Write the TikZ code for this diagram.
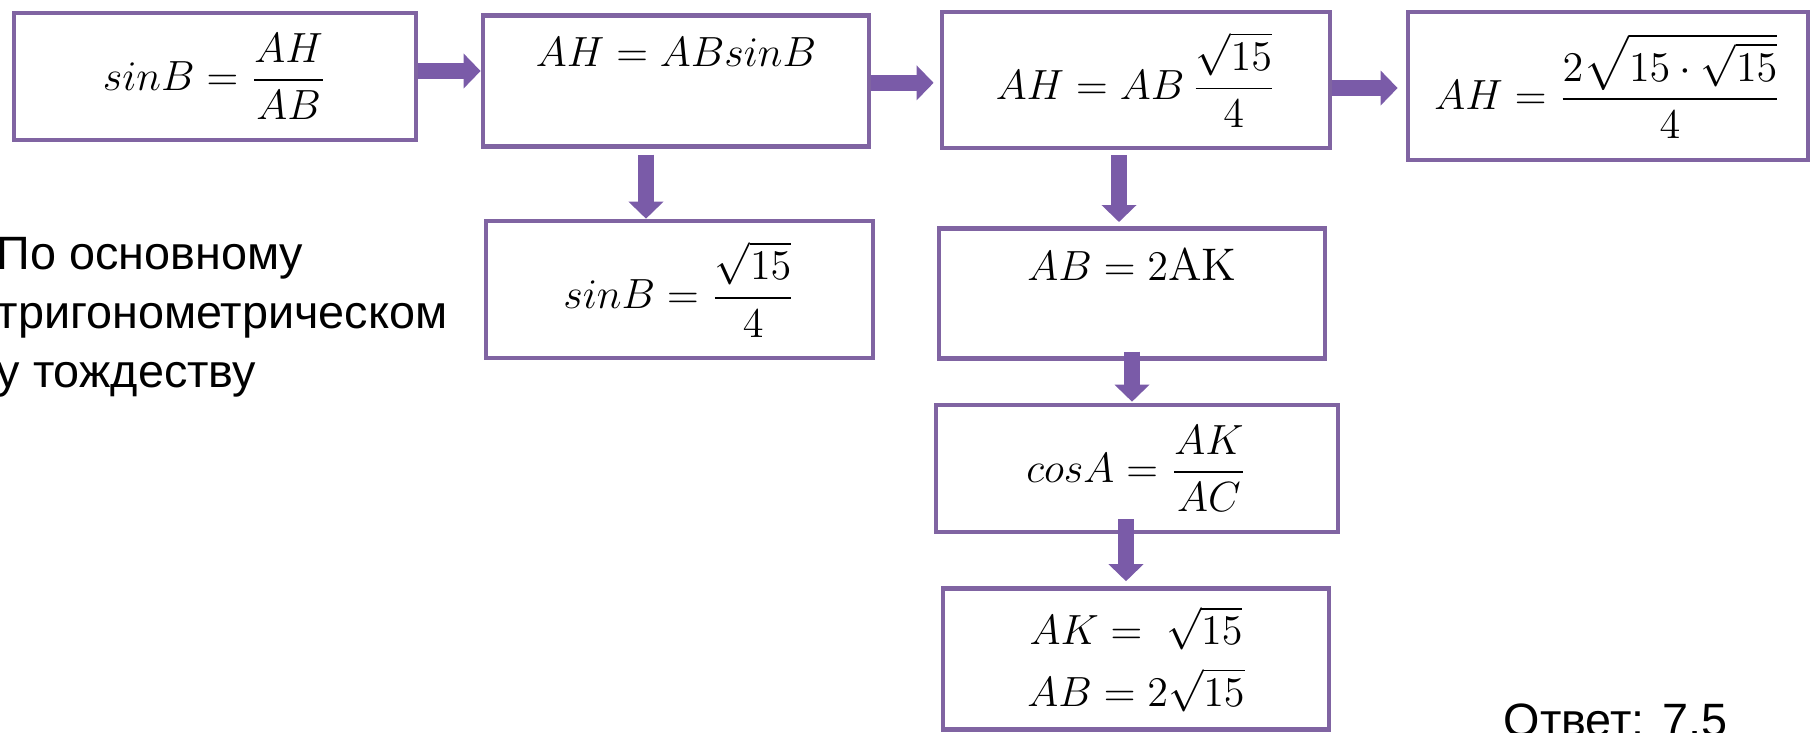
\documentclass[tikz,border=0pt]{standalone}
\usepackage{amsmath, amssymb}
\usepackage{fontspec}
\newfontfamily\rusfont{Liberation Sans}
\usetikzlibrary{arrows.meta}
\definecolor{boxpurple}{HTML}{8064A2}
\definecolor{arrowpurple}{HTML}{7A5BA8}

\begin{document}
\begin{tikzpicture}[x=0.01cm, y=-0.01cm,
    eqbox/.style={draw=boxpurple, line width=1.3pt, fill=white, inner sep=0pt,
        font=\fontsize{13}{17.6}\selectfont},
    topbox/.style={eqbox, anchor=north, inner ysep=0.2cm},
    flow/.style={draw=arrowpurple, line width=0.16cm,
        -{Triangle[length=0.17cm, width=0.34cm]}}]
    % Fix the page size
    \useasboundingbox (0,0) rectangle (1816,732);

    % Top row of equations
    \node[eqbox, minimum width=4.02cm, minimum height=1.27cm] (b1) at (215,76.5) {$sinB = \dfrac{AH}{AB}$};
    \node[topbox, minimum width=3.86cm, text height=0.31cm, text depth=0.6cm] (b2) at (676,13) {$AH = ABsinB$};
    \node[eqbox, minimum width=3.88cm, minimum height=1.36cm] (b3) at (1136,80) {$AH = AB\,\dfrac{\sqrt{15}}{4}$};
    \node[eqbox, minimum width=4.0cm, minimum height=1.48cm] (b4) at (1608,86) {$AH = \dfrac{2\sqrt{15\cdot\sqrt{15}}}{4}$};

    % Lower boxes
    \node[eqbox, minimum width=3.87cm, minimum height=1.37cm] (b5) at (679.5,289.5) {$sinB = \dfrac{\sqrt{15}}{4}$};
    \node[topbox, minimum width=3.86cm, text height=0.32cm, text depth=0.58cm] (b6) at (1132,226) {$AB = 2\mathrm{AK}$};
    \node[eqbox, minimum width=4.02cm, minimum height=1.27cm] (b7) at (1137,468.5) {$cosA = \dfrac{AK}{AC}$};
    \node[eqbox, minimum width=3.86cm, minimum height=1.41cm, align=center] (b8) at (1136,659) {$AK =\;\sqrt{15}$\\ $AB = 2\sqrt{15}$};

    % Plain text
    \node[anchor=north west, inner sep=0pt, align=left, font=\rusfont\fontsize{13.3}{16.65}\selectfont] (note) at (-4,237)
        {По основному\\ тригонометрическом\\ у тождеству};
    \node[anchor=base west, inner sep=0pt, font=\rusfont\fontsize{13.3}{16.65}\selectfont] (answer) at (1503,736) {Ответ: 7,5};

    % Horizontal arrows
    \draw[flow] ([yshift=0.055cm]b1.east) -- ([yshift=0.055cm]b1.east -| b2.west);
    \draw[flow] ([yshift=-0.02cm]b2.east) -- ([yshift=-0.02cm,xshift=-0.06cm]b2.east -| b3.west);
    \draw[flow] ([yshift=-0.08cm]b3.east) -- ([yshift=-0.08cm,xshift=-0.08cm]b3.east -| b4.west);

    % Vertical arrows
    \draw[flow] ([xshift=-0.3cm,yshift=-0.06cm]b2.south) -- ([xshift=-0.3cm]b2.south |- b5.north);
    \draw[flow] ([xshift=-0.17cm,yshift=-0.05cm]b3.south) -- ([xshift=-0.17cm,yshift=0.04cm]b3.south |- b6.north);
    \draw[flow, shorten >=-0.08cm] ([yshift=0.09cm]b6.south) -- ([yshift=0.09cm]b6.south |- b7.north);
    \draw[flow] ([xshift=-0.11cm,yshift=0.15cm]b7.south) -- ([xshift=-0.11cm,yshift=0.05cm]b7.south |- b8.north);
\end{tikzpicture}
\end{document}
